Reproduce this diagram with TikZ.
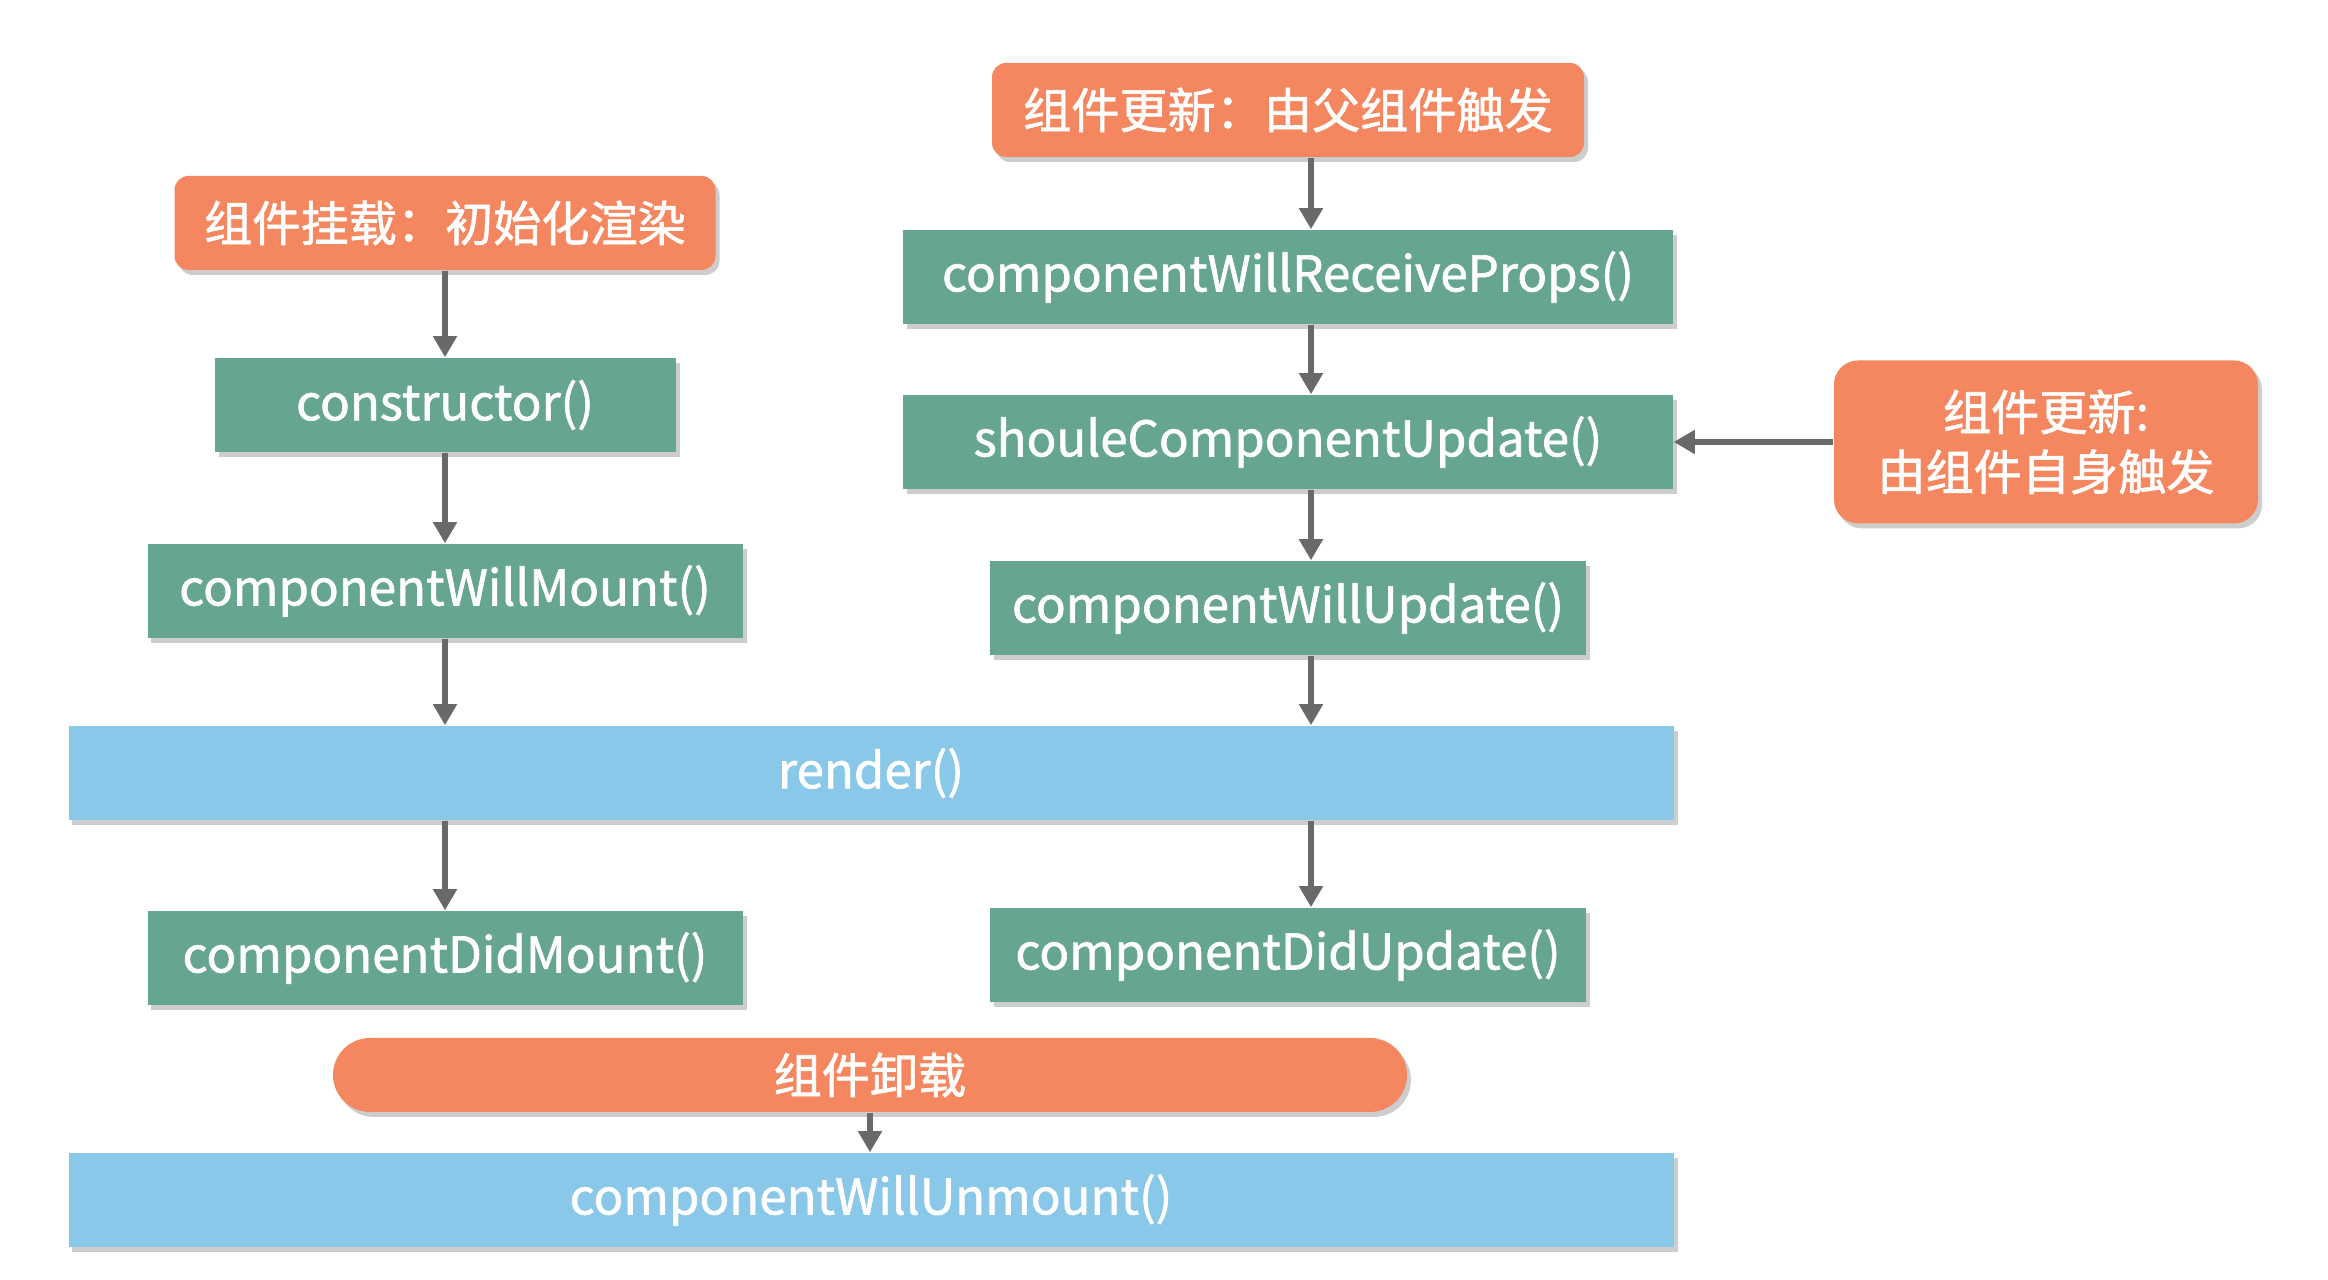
\documentclass[tikz,border=0pt]{standalone}
\usepackage{fontspec}
\setmainfont{Noto Sans CJK SC}[FakeBold=1.3]
\usepackage{xcolor}
\definecolor{phaseorange}{RGB}{245,135,96}
\definecolor{hookgreen}{RGB}{102,166,142}
\definecolor{renderblue}{RGB}{137,200,232}
\definecolor{arrgray}{RGB}{105,105,105}
\usepackage{tikz}
\usetikzlibrary{arrows.meta, positioning, shadows}

\begin{document}
\begin{tikzpicture}[
  softshadow/.style={drop shadow={shadow xshift=0.04cm, shadow yshift=-0.05cm, opacity=0.28, fill=black!70}},
  phase/.style={fill=phaseorange, rounded corners=0.14cm, text=white, inner sep=0pt, minimum width=#1, minimum height=0.94cm, font=\fontsize{13.7}{17}\selectfont, softshadow},
  hook/.style={fill=hookgreen, text=white, inner sep=0pt, minimum width=#1, minimum height=0.94cm, font=\fontsize{14}{17}\selectfont, softshadow},
  wide/.style={fill=renderblue, text=white, inner sep=0pt, minimum width=16.05cm, minimum height=0.94cm, font=\fontsize{14}{17}\selectfont, softshadow},
  arr/.style={-{Triangle[length=6pt, width=6.5pt]}, line width=1.5pt, color=arrgray},
]
  \useasboundingbox (0,0) rectangle (23.28,12.80);

  % Mount column
  \node[phase=5.41cm] (mount) at (4.45, 10.57) {组件挂载：初始化渲染};
  \node[hook=4.61cm] (ctor) at (4.45, 8.75) {constructor()};
  \node[hook=5.95cm] (willmount) at (4.45, 6.89) {componentWillMount()};

  % Render
  \node[wide] (render) at (8.71, 5.07) {render()};
  \node[hook=5.95cm] (didmount) at (4.45, 3.22) {componentDidMount()};

  % Update column
  \node[phase=5.92cm] (parentupd) at (12.88, 11.70) {组件更新：由父组件触发};
  \node[hook=7.70cm] (recv) at (12.88, 10.03) {componentWillReceiveProps()};
  \node[hook=7.70cm] (should) at (12.88, 8.38) {shouleComponentUpdate()};
  \node[hook=5.96cm] (willupd) at (12.88, 6.72) {componentWillUpdate()};
  \node[hook=5.96cm] (didupd) at (12.88, 3.25) {componentDidUpdate()};
  \node[phase=4.24cm, minimum height=1.63cm, rounded corners=0.24cm, align=center, font=\fontsize{13.7}{17}\selectfont] (selfupd) at (20.46, 8.38) {组件更新:\\由组件自身触发};
  \coordinate (rcol) at (13.11, 11.70);

  % Unmount
  \node[phase=10.74cm, minimum height=0.74cm, rounded corners=0.37cm] (unmount) at (8.70, 2.05) {组件卸载};
  \node[wide] (willunmount) at (8.71, 0.80) {componentWillUnmount()};

  % Arrows
  \draw[arr] (mount) -- (ctor);
  \draw[arr] (ctor) -- (willmount);
  \draw[arr] (willmount) -- (willmount |- render.north);
  \draw[arr] (render.south -| didmount) -- (didmount);
  \draw[arr] (parentupd.south -| rcol) -- (recv.north -| rcol);
  \draw[arr] (recv.south -| rcol) -- (should.north -| rcol);
  \draw[arr] (should.south -| rcol) -- (willupd.north -| rcol);
  \draw[arr] (willupd.south -| rcol) -- (render.north -| rcol);
  \draw[arr] (render.south -| rcol) -- (didupd.north -| rcol);
  \draw[arr] (selfupd) -- (should);
  \draw[arr] (unmount) -- (unmount |- willunmount.north);
\end{tikzpicture}
\end{document}
